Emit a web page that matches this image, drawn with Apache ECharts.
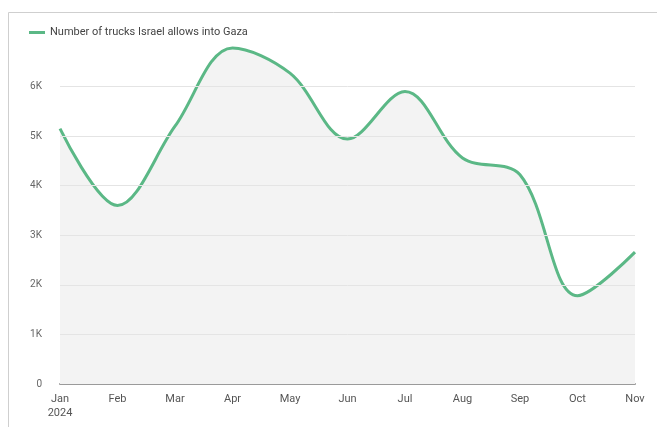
<!DOCTYPE html>
<html><head><meta charset="utf-8">
<script src="https://cdn.jsdelivr.net/npm/echarts@6/dist/echarts.min.js"></script>
<style>html,body{margin:0;padding:0;background:#fff}#c{width:657px;height:427px}</style>
</head><body><div id="c"></div>
<script>
const months = ['Jan\n2024','Feb','Mar','Apr','May','Jun','Jul','Aug','Sep','Oct','Nov'];
const trucks = [5150, 3600, 5200, 6780, 6270, 4940, 5900, 4560, 4220, 1780, 2660];
const gridValues = [1000, 2000, 3000, 4000, 5000, 6000];
const seriesName = 'Number of trucks Israel allows into Gaza';

const chart = echarts.init(document.getElementById('c'));
chart.setOption({
  animation: false,
  backgroundColor: '#fff',
  graphic: [{
    type: 'rect', shape: {x: 8.5, y: 12.5, width: 700, height: 500},
    style: {fill: 'none', stroke: '#cfcfcf', lineWidth: 1}, z: -1, silent: true
  }],
  legend: {
    left: 24, top: 22, itemWidth: 16, itemHeight: 3, itemGap: 5,
    icon: 'rect',
    textStyle: {fontFamily: 'Roboto', fontSize: 11, color: '#444'},
    data: [seriesName]
  },
  grid: {left: 60, right: 22, top: 37, bottom: 43},
  xAxis: {
    type: 'category', data: months, boundaryGap: false,
    axisLine: {lineStyle: {color: '#9a9a9a', width: 2}},
    axisTick: {show: false},
    axisLabel: {color: '#555', fontFamily: 'Roboto', fontSize: 11, margin: 8, lineHeight: 14}
  },
  yAxis: {
    type: 'value', min: 0, max: 7000, interval: 1000,
    splitLine: {show: false},
    axisLine: {show: false}, axisTick: {show: false},
    axisLabel: {color: '#666', fontFamily: 'Roboto', fontSize: 10, margin: 18,
      formatter: v => v === 0 ? '0' : (v >= 7000 ? '' : (v / 1000) + 'K')}
  },
  series: [{
    name: seriesName, type: 'line', data: trucks, smooth: 0.35,
    symbol: 'none',
    lineStyle: {color: '#5bb886', width: 3},
    itemStyle: {color: '#5bb886'},
    areaStyle: {color: '#f3f3f3', opacity: 1},
    markLine: {
      silent: true, symbol: 'none', label: {show: false},
      lineStyle: {color: '#e4e4e4', width: 1, type: 'solid'},
      data: gridValues.map(v => ({yAxis: v}))
    }
  }]
});
</script></body></html>
